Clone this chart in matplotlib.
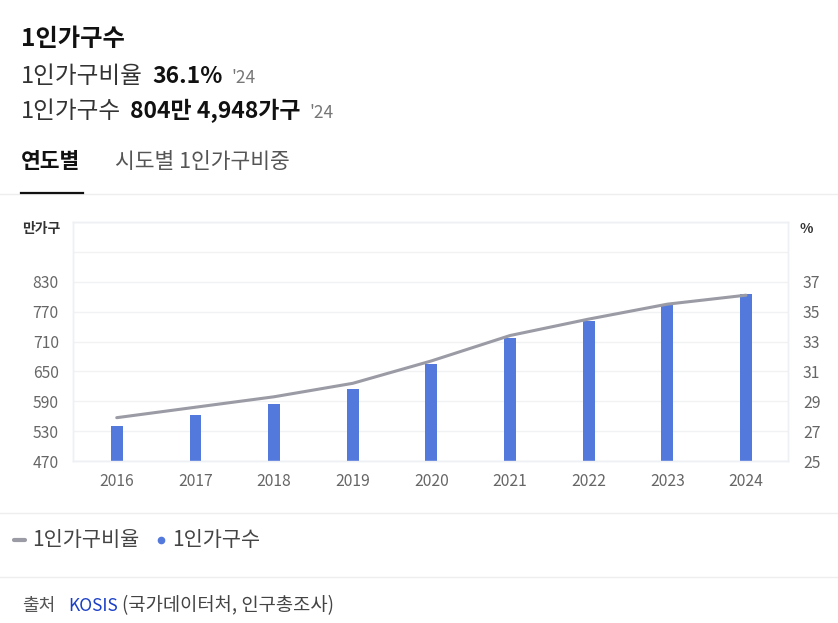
import matplotlib
matplotlib.use("Agg")
import matplotlib.pyplot as plt
from matplotlib.lines import Line2D
import numpy as np

plt.rcParams["font.family"] = ["Noto Sans CJK KR", "DejaVu Sans"]

years = ["2016", "2017", "2018", "2019", "2020", "2021", "2022", "2023", "2024"]
households = [539.8, 561.9, 584.9, 614.8, 664.3, 716.6, 750.2, 782.9, 804.5]  # 만가구
ratio = [27.9, 28.6, 29.3, 30.2, 31.7, 33.4, 34.5, 35.5, 36.1]  # %
left_ticks = [470, 530, 590, 650, 710, 770, 830]
right_ticks = [25, 27, 29, 31, 33, 35, 37]

bar_color = "#5479dc"
line_color = "#9a9ba4"
grid_color = "#f1f2f4"
tick_color = "#666666"

W, H = 838, 623
fig = plt.figure(figsize=(W / 100, H / 100), dpi=100)


def fx(px):
    return px / W


def fy(py):
    return 1 - py / H


def chain(parts, x0, y, gap=8):
    # lay out text pieces one after another on a line
    r = fig.canvas.get_renderer()
    x = x0
    for s, kw in parts:
        t = fig.text(fx(x), fy(y), s, va="baseline", **kw)
        bb = t.get_window_extent(renderer=r)
        x += bb.width + gap


# header
fig.text(fx(21), fy(46), "1인가구수", fontsize=17.5, fontweight="bold", color="#111111", va="baseline")
chain([("1인가구비율", dict(fontsize=17, color="#333333")),
       ("36.1%", dict(fontsize=16.5, fontweight="bold", color="#111111")),
       ("'24", dict(fontsize=12.5, color="#777777"))], 21, 83, gap=9)
chain([("1인가구수", dict(fontsize=17, color="#333333")),
       ("804만 4,948가구", dict(fontsize=16.5, fontweight="bold", color="#111111")),
       ("'24", dict(fontsize=12.5, color="#777777"))], 21, 118, gap=9)

# tabs
fig.text(fx(21), fy(168), "연도별", fontsize=15.5, fontweight="bold", color="#111111", va="baseline")
fig.text(fx(115), fy(168), "시도별 1인가구비중", fontsize=15.5, color="#555555", va="baseline")
fig.add_artist(Line2D([fx(0), fx(W)], [fy(193.5), fy(193.5)], color="#eeeeee", lw=1))
fig.add_artist(Line2D([fx(21), fx(83)], [fy(193), fy(193)], color="#111111", lw=1.6))

# chart
ax = fig.add_axes([fx(72.7), fy(461), fx(787.7) - fx(72.7), (461 - 222) / H])
ax2 = ax.twinx()
x = np.arange(len(years))
ax.bar(x, households, width=0.15, color=bar_color, zorder=3)
ax.set_ylim(470, 950)
ax.set_yticks(np.arange(470, 951, 60))
ax.set_yticklabels([str(v) if v in left_ticks else "" for v in np.arange(470, 951, 60)])
ax.grid(axis="y", color=grid_color, lw=1, zorder=0)
ax.set_xlim(-0.56, 8.53)
ax.set_xticks(x)
ax.set_xticklabels(years)

ax2.plot(x, ratio, color=line_color, lw=2.2, zorder=4, solid_capstyle="round")
ax2.set_ylim(25, 41)
ax2.set_yticks(np.arange(25, 42, 2))
ax2.set_yticklabels([str(v) if v in right_ticks else "" for v in np.arange(25, 42, 2)])

for a in (ax, ax2):
    for side in ("top", "left", "right", "bottom"):
        a.spines[side].set_color("#eef0f3")
        a.spines[side].set_linewidth(1)
    a.tick_params(length=0, labelsize=11.3, labelcolor=tick_color)
ax.tick_params(axis="y", pad=10)
ax.tick_params(axis="x", pad=9)
ax2.tick_params(axis="y", pad=11)
ax.set_zorder(ax2.get_zorder() - 1)
ax2.patch.set_visible(False)

fig.text(fx(22), fy(233), "만가구", fontsize=10, fontweight="bold", color="#333333", va="baseline")
fig.text(fx(799), fy(233), "%", fontsize=10, fontweight="bold", color="#333333", va="baseline")

# legend
fig.add_artist(Line2D([fx(14), fx(25)], [fy(540), fy(540)], color=line_color, lw=3, solid_capstyle="round"))
fig.text(fx(32), fy(546), "1인가구비율", fontsize=15, color="#444444", va="baseline")
fig.add_artist(Line2D([fx(161)], [fy(540)], marker="o", ms=4.5, color=bar_color, lw=0))
fig.text(fx(172), fy(546), "1인가구수", fontsize=15, color="#444444", va="baseline")
fig.add_artist(Line2D([fx(0), fx(W)], [fy(513), fy(513)], color="#eeeeee", lw=1))
fig.add_artist(Line2D([fx(0), fx(W)], [fy(577), fy(577)], color="#eeeeee", lw=1))

# source
fig.text(fx(22), fy(611), "출처", fontsize=13, color="#555555", va="baseline")
chain([("KOSIS", dict(fontsize=12.5, color="#1a3fc7")),
       ("(국가데이터처, 인구총조사)", dict(fontsize=13.5, color="#444444"))], 68, 611, gap=4)

fig.savefig("out.png", dpi=100)
